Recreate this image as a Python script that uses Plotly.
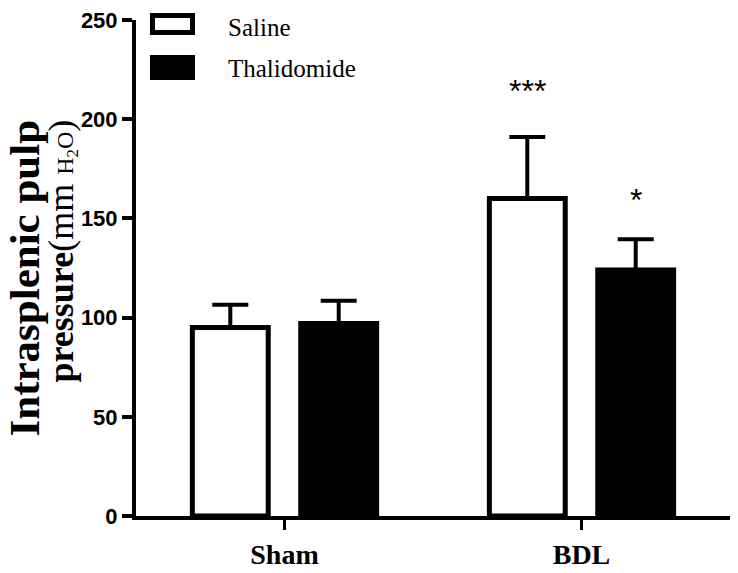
import plotly.graph_objects as go

categories = ["Sham", "BDL"]
saline_mean = [95, 160]
saline_err = [11.5, 31]
thal_mean = [97, 124]
thal_err = [11.5, 15.5]
series_names = ["Saline", "Thalidomide"]
sig_saline = ["", "***"]
sig_thal = ["", "*"]
y_ticks = [0, 50, 100, 150, 200, 250]

W, H = 738, 573
L, R, T, B = 136, 8, 20, 57
PW, PH = W - L - R, H - T - B

def px(x):
    return (x - L) / PW

def py(y):
    return (H - B - y) / PH

fig = go.Figure()
fig.add_trace(go.Bar(
    name=series_names[0], x=categories, y=saline_mean,
    marker=dict(color="white", line=dict(color="black", width=5)),
    error_y=dict(type="data", array=saline_err, arrayminus=[0, 0], symmetric=False,
                 color="black", thickness=4, width=18),
    showlegend=False,
))
fig.add_trace(go.Bar(
    name=series_names[1], x=categories, y=thal_mean,
    marker=dict(color="black", line=dict(color="black", width=5)),
    error_y=dict(type="data", array=thal_err, arrayminus=[0, 0], symmetric=False,
                 color="black", thickness=4, width=18),
    showlegend=False,
))

annotations = []
for i, c in enumerate(categories):
    if sig_saline[i]:
        annotations.append(dict(x=c, y=saline_mean[i] + saline_err[i] + 23, xref="x", yref="y",
                                text=sig_saline[i], showarrow=False, xshift=-54,
                                font=dict(family="Liberation Sans", size=32, color="black")))
    if sig_thal[i]:
        annotations.append(dict(x=c, y=thal_mean[i] + thal_err[i] + 20, xref="x", yref="y",
                                text=sig_thal[i], showarrow=False, xshift=54,
                                font=dict(family="Liberation Sans", size=32, color="black")))

# y-axis title lines (right-aligned at the top)
annotations.append(dict(x=px(24), y=py(118), xref="paper", yref="paper", xanchor="center", yanchor="top",
                        text="<b>Intrasplenic pulp</b>", textangle=-90, showarrow=False,
                        font=dict(family="Liberation Serif", size=43, color="black")))
annotations.append(dict(x=px(61), y=py(118), xref="paper", yref="paper", xanchor="center", yanchor="top",
                        text="<b>pressure</b>(mm <span style='font-size:24px'>H<sub>2</sub>O</span>)",
                        textangle=-90, showarrow=False,
                        font=dict(family="Liberation Serif", size=36, color="black")))

# legend
shapes = [
    dict(type="rect", xref="paper", yref="paper", x0=px(152.5), x1=px(192.5), y0=py(32.5), y1=py(15.5),
         line=dict(color="black", width=5), fillcolor="white", opacity=1, layer="above"),
    dict(type="rect", xref="paper", yref="paper", x0=px(152.5), x1=px(192.5), y0=py(77.5), y1=py(57.5),
         line=dict(color="black", width=5), fillcolor="black", opacity=1, layer="above"),
]
annotations.append(dict(x=px(226), y=py(27), xref="paper", yref="paper", xanchor="left", yanchor="middle",
                        text=series_names[0], showarrow=False,
                        font=dict(family="Liberation Serif", size=25, color="black")))
annotations.append(dict(x=px(226), y=py(69), xref="paper", yref="paper", xanchor="left", yanchor="middle",
                        text=series_names[1], showarrow=False,
                        font=dict(family="Liberation Serif", size=25, color="black")))

fig.update_layout(
    width=W, height=H,
    margin=dict(l=L, r=R, t=T, b=B, pad=0, autoexpand=False),
    paper_bgcolor="white", plot_bgcolor="white",
    barmode="group", bargap=0.27, bargroupgap=0.3,
    annotations=annotations, shapes=shapes,
    showlegend=False,
)
fig.update_xaxes(
    type="category", range=[-0.5, 1.5], automargin=False,
    showline=True, linecolor="black", linewidth=4,
    ticks="outside", ticklen=10, tickwidth=3, tickcolor="black",
    showgrid=False, zeroline=False,
    tickfont=dict(family="Liberation Serif", size=28, color="black", weight="bold"),
)
fig.update_yaxes(
    range=[0, 250], tickvals=y_ticks, automargin=False,
    showline=True, linecolor="black", linewidth=4,
    ticks="outside", ticklen=10, tickwidth=4, tickcolor="black",
    showgrid=False, zeroline=False,
    tickfont=dict(family="Liberation Sans", size=22, color="black", weight="bold"),
)

fig.write_html("out.html", config={"displayModeBar": False},
               post_script="document.body.style.margin='0';document.body.style.padding='0';document.body.style.overflow='hidden';")
